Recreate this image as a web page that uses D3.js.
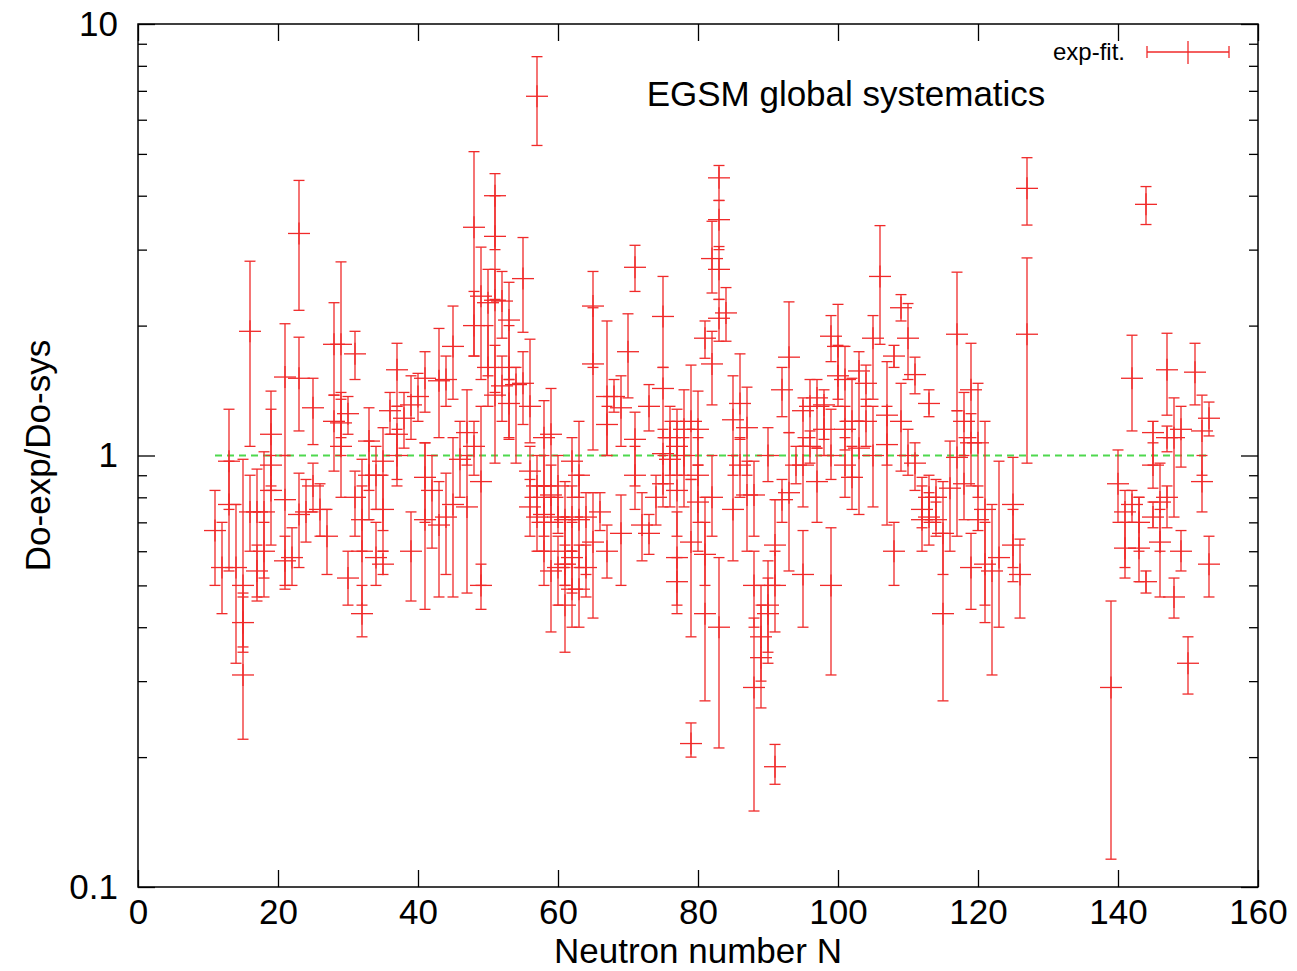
<!DOCTYPE html>
<html>
<head>
<meta charset="utf-8">
<script src="https://cdn.jsdelivr.net/npm/d3@7"></script>
<style>
  body { margin: 0; background: #fff; }
  text { font-family: "Liberation Sans", Arial, Helvetica, sans-serif; fill: #000; }
</style>
</head>
<body>
<div id="chart"></div>
<script>
// neutron number of each nucleus and the ratio Do-exp/Do-sys with its error limits
const neutronN = [
  11, 13, 13, 14, 15, 15, 15, 16, 16, 17, 17, 18, 18, 19, 19, 19, 21, 21, 21,
  23, 23, 23, 24, 25, 25, 26, 27, 28, 28, 29, 29, 29, 30, 30, 31, 31, 32, 32, 32,
  33, 33, 34, 34, 35, 35, 35, 36, 37, 37, 37, 38, 39, 39, 40, 41, 41, 41, 42,
  43, 43, 44, 45, 45, 46, 47, 47, 48, 48, 48, 49, 49, 49, 50, 50, 51, 51, 51, 51,
  52, 52, 53, 53, 53, 54, 55, 55, 56, 56, 57, 57, 58, 58, 58, 59, 59, 59, 60, 60,
  61, 61, 61, 62, 62, 62, 63, 63, 63, 64, 64, 65, 65, 65, 66, 67, 67, 67, 68,
  69, 69, 70, 71, 71, 71, 72, 73, 73, 74, 75, 75, 75, 75, 76, 77, 77, 77, 78, 78,
  79, 79, 79, 80, 80, 81, 81, 81, 82, 82, 82, 83, 83, 83, 83, 83, 84, 85, 85,
  86, 86, 87, 87, 88, 88, 88, 89, 89, 90, 90, 90, 91, 91, 91, 92, 92, 93, 93,
  94, 95, 95, 95, 96, 97, 97, 98, 99, 99, 99, 100, 100, 101, 101, 102, 102,
  103, 103, 104, 105, 105, 106, 107, 107, 108, 108, 109, 109, 110, 110, 111, 111,
  112, 113, 113, 114, 114, 115, 115, 116, 117, 117, 118, 119, 119, 119, 120, 120,
  121, 121, 122, 123, 125, 125, 126, 127, 127,
  139, 140, 141, 141, 142, 142, 143, 143, 144, 144, 145, 145, 145, 146, 146,
  147, 147, 147, 148, 148, 149, 149, 150, 151, 152, 152, 153, 153,
  12, 22, 44, 56, 57, 58, 60, 61, 62, 76, 77, 80, 96, 98, 101, 104, 112, 113, 118
];
const ratio = [
  0.67, 0.97, 0.77, 0.55, 0.31, 0.5, 0.41, 1.94, 0.74, 0.74, 0.54, 0.74, 0.6, 1.12, 0.83, 0.95, 1.52, 0.79, 0.57,
  3.27, 1.51, 0.73, 0.74, 1.29, 0.85, 0.75, 0.65, 1.81, 1.2, 1.81, 1.05, 1.19, 1.25, 0.52, 1.72, 0.8, 0.43, 0.6, 0.71,
  1.08, 0.9, 0.58, 0.9, 0.97, 0.75, 0.56, 1.27, 1.58, 1.12, 1.0, 1.22, 1.31, 0.6, 1.37, 1.51, 0.71, 0.89, 0.83,
  1.49, 0.69, 0.72, 1.79, 0.77, 0.98, 1.13, 0.76, 3.38, 2.0, 1.05, 2.34, 0.87, 0.5, 2.26, 1.6, 4.0, 3.22, 2.29, 1.38,
  2.28, 1.45, 2.06, 1.6, 1.32, 1.46, 2.57, 1.47, 1.3, 0.92, 6.8, 0.85, 0.8, 1.1, 0.73, 1.12, 0.54, 0.81, 0.72, 0.55,
  0.71, 0.45, 0.56, 0.97, 0.49, 0.72, 0.9, 0.71, 0.49, 0.72, 0.55, 2.22, 1.63, 0.63, 0.74, 1.37, 1.18, 0.6, 1.37,
  1.29, 0.66, 1.74, 2.73, 1.09, 0.9, 0.69, 1.3, 0.66, 0.8, 2.1, 1.43, 1.01, 0.86, 0.98, 0.83, 0.58, 0.51, 1.15, 1.0,
  1.2, 0.63, 0.215, 1.15, 0.78, 1.87, 0.43, 0.59, 2.86, 1.63, 0.8, 0.4, 4.4, 3.52, 2.7, 2.08, 2.14, 1.21, 0.75,
  1.32, 0.95, 1.16, 0.81, 0.29, 0.81, 0.5, 0.38, 0.34, 0.43, 0.45, 1.0, 0.19, 0.62, 0.5, 1.42, 0.79, 1.69, 0.82,
  0.95, 1.27, 0.95, 0.53, 1.05, 1.36, 0.87, 1.31, 1.89, 1.0, 0.5, 1.79, 1.53, 1.5, 1.15, 1.2, 0.89,
  1.57, 1.04, 1.47, 1.87, 1.0, 2.6, 1.24, 1.06, 1.7, 0.6, 2.2, 1.2, 1.87, 1.0, 1.54, 0.96,
  0.71, 1.32, 0.8, 0.8, 0.71, 0.43, 0.66, 0.84, 1.91, 0.99, 0.86, 1.42, 1.07, 0.55, 1.07, 0.71,
  0.75, 0.56, 0.54, 0.58, 0.77, 0.62, 0.53, 1.91, 4.16,
  0.29, 0.86, 0.74, 0.61, 1.51, 0.77, 0.61, 0.7, 0.51, 3.82, 1.13, 0.95, 0.72, 0.78, 0.63,
  1.58, 1.1, 0.8, 1.1, 0.47, 1.15, 0.6, 0.33, 1.56, 1.14, 0.87, 1.22, 0.56,
  0.55, 0.58, 1.5, 0.76, 0.72, 0.6, 0.85, 0.6, 0.58, 1.1, 1.05, 0.9, 1.3, 1.15, 0.95, 1.2, 0.75, 0.72, 1.2
];
const ratioLow = [
  0.5, 0.75, 0.54, 0.33, 0.22, 0.36, 0.35, 1.05, 0.6, 0.46, 0.47, 0.47, 0.52, 0.83, 0.62, 0.85, 1.0, 0.49, 0.5,
  2.17, 1.14, 0.55, 0.63, 1.06, 0.74, 0.65, 0.53, 1.38, 0.92, 1.1, 0.8, 1.0, 1.12, 0.45, 1.5, 0.65, 0.38, 0.45, 0.6,
  0.83, 0.71, 0.5, 0.75, 0.67, 0.6, 0.53, 1.12, 1.3, 0.88, 0.85, 1.04, 1.09, 0.46, 1.2, 1.26, 0.44, 0.7, 0.61,
  1.1, 0.47, 0.53, 1.35, 0.47, 0.8, 0.95, 0.48, 1.7, 1.7, 0.9, 1.5, 0.5, 0.44, 1.53, 1.3, 3.0, 2.3, 1.4, 0.96,
  1.87, 1.2, 1.5, 1.09, 1.1, 0.96, 1.93, 1.18, 1.07, 0.8, 5.23, 0.7, 0.6, 0.85, 0.65, 0.85, 0.39, 0.7, 0.66, 0.45,
  0.55, 0.35, 0.5, 0.8, 0.4, 0.6, 0.8, 0.55, 0.4, 0.53, 0.47, 1.6, 1.03, 0.42, 0.67, 1.0, 1.0, 0.52, 1.26,
  1.05, 0.5, 1.36, 2.4, 0.85, 0.75, 0.57, 1.14, 0.59, 0.69, 1.6, 1.1, 0.86, 0.76, 0.76, 0.65, 0.43, 0.45, 0.76, 0.9,
  0.88, 0.38, 0.2, 0.95, 0.6, 1.68, 0.27, 0.5, 2.38, 1.31, 0.65, 0.21, 3.9, 3.0, 2.3, 1.84, 1.84, 0.9, 0.57,
  1.09, 0.8, 0.9, 0.6, 0.15, 0.65, 0.4, 0.3, 0.26, 0.33, 0.35, 0.87, 0.173, 0.5, 0.39, 1.23, 0.7, 1.13, 0.54,
  0.86, 1.05, 0.76, 0.4, 0.96, 1.04, 0.7, 1.09, 1.65, 0.88, 0.31, 1.35, 1.3, 1.2, 1.03, 0.89, 0.75,
  1.2, 0.73, 1.3, 1.35, 0.76, 1.81, 0.95, 0.69, 1.6, 0.5, 2.05, 0.92, 1.5, 0.9, 1.39, 0.83,
  0.6, 1.23, 0.7, 0.7, 0.65, 0.27, 0.53, 0.6, 1.27, 0.65, 0.71, 1.1, 0.85, 0.44, 0.8, 0.67,
  0.41, 0.45, 0.31, 0.4, 0.51, 0.55, 0.42, 0.96, 3.42,
  0.116, 0.7, 0.52, 0.55, 1.14, 0.7, 0.51, 0.6, 0.48, 3.43, 0.95, 0.84, 0.68, 0.6, 0.47,
  1.24, 1.02, 0.68, 0.72, 0.42, 0.94, 0.54, 0.28, 1.31, 0.9, 0.74, 1.11, 0.47,
  0.43, 0.5, 1.3, 0.65, 0.6, 0.5, 0.7, 0.5, 0.48, 0.9, 0.9, 0.7, 1.1, 1.0, 0.8, 1.05, 0.68, 0.62, 1.0
];
const ratioHigh = [
  0.83, 1.28, 0.97, 0.77, 0.47, 0.98, 0.48, 2.82, 0.9, 0.93, 0.62, 1.02, 0.7, 1.41, 1.0, 1.28, 2.02, 1.0, 0.65,
  4.34, 1.88, 0.91, 0.88, 1.51, 0.96, 0.86, 0.75, 2.26, 1.38, 2.81, 1.35, 1.4, 1.37, 0.6, 1.94, 0.92, 0.5, 0.98, 0.85,
  1.29, 1.08, 0.7, 1.05, 1.16, 0.9, 0.6, 1.4, 1.82, 1.3, 1.15, 1.4, 1.53, 0.74, 1.55, 1.74, 1.07, 1.07, 1.0,
  1.97, 0.87, 0.91, 2.22, 1.1, 1.2, 1.42, 1.0, 5.06, 2.4, 1.2, 3.04, 1.3, 0.56, 2.7, 2.0, 4.5, 4.0, 2.7, 1.8,
  2.67, 1.7, 2.52, 2.0, 1.5, 1.6, 3.2, 1.74, 1.86, 1.05, 8.4, 1.0, 1.0, 1.34, 0.85, 1.43, 0.8, 0.95, 0.8, 0.65,
  0.87, 0.56, 0.62, 1.1, 0.6, 0.85, 1.2, 0.9, 0.62, 0.82, 0.62, 2.67, 2.2, 0.82, 0.82, 2.05, 1.3, 0.69, 1.5,
  1.53, 0.81, 2.13, 3.07, 1.26, 1.05, 0.82, 1.46, 0.73, 0.9, 2.6, 1.6, 1.15, 1.0, 1.2, 1.28, 0.74, 0.58, 1.42, 1.1,
  1.62, 0.88, 0.24, 1.41, 0.95, 2.05, 0.8, 0.7, 3.49, 1.94, 1.0, 0.58, 4.7, 3.9, 3.05, 2.3, 2.45, 1.53, 1.0,
  1.72, 1.1, 1.44, 0.97, 0.42, 0.97, 0.6, 0.5, 0.45, 0.52, 0.57, 1.16, 0.214, 0.79, 0.6, 1.6, 0.88, 2.27, 1.13,
  1.05, 1.36, 1.1, 0.67, 1.14, 1.5, 1.04, 1.42, 2.11, 1.28, 0.68, 2.24, 1.8, 1.79, 1.3, 1.51, 1.05,
  1.74, 1.2, 1.62, 2.11, 1.3, 3.41, 1.65, 1.3, 1.8, 0.7, 2.36, 1.47, 2.25, 1.15, 1.69, 1.07,
  0.89, 1.42, 0.9, 0.88, 0.78, 0.66, 0.87, 1.08, 2.66, 1.27, 1.1, 1.82, 1.25, 0.66, 1.47, 0.85,
  1.2, 0.7, 0.77, 0.97, 0.99, 0.75, 0.64, 2.87, 4.9,
  0.46, 1.03, 0.83, 0.7, 1.9, 0.83, 0.8, 0.8, 0.54, 4.2, 1.2, 1.07, 0.78, 0.96, 0.75,
  1.92, 1.17, 0.85, 1.36, 0.52, 1.3, 0.67, 0.38, 1.82, 1.38, 1.0, 1.33, 0.65,
  0.7, 0.68, 1.7, 0.88, 0.85, 0.7, 1.0, 0.72, 0.7, 1.3, 1.2, 1.1, 1.5, 1.3, 1.1, 1.35, 0.85, 0.82, 1.4
];
const xTicks = [0, 20, 40, 60, 80, 100, 120, 140, 160];
const yMajor = [0.1, 1, 10];
const yMinor = [0.2, 0.3, 0.4, 0.5, 0.6, 0.7, 0.8, 0.9, 2, 3, 4, 5, 6, 7, 8, 9];
const referenceLine = { from: 11, to: 153, value: 1 };

const chartSize = { width: 1297, height: 971 };
const plot = { left: 138, right: 1258, top: 24, bottom: 887 };
const red = "#f02a2a";

const points = neutronN.map((n, i) => ({ n, v: ratio[i], lo: ratioLow[i], hi: ratioHigh[i] }));

const svg = d3.select("#chart").append("svg")
  .attr("width", chartSize.width)
  .attr("height", chartSize.height);

const x = d3.scaleLinear().domain([0, 160]).range([plot.left, plot.right]);
const y = d3.scaleLog().domain([0.1, 10]).range([plot.bottom, plot.top]);

// reference line at ratio = 1
svg.append("line")
  .attr("x1", x(referenceLine.from)).attr("x2", x(referenceLine.to))
  .attr("y1", y(referenceLine.value)).attr("y2", y(referenceLine.value))
  .attr("stroke", "#4ed84e").attr("stroke-width", 2)
  .attr("stroke-dasharray", "7,5");

// error bars
const bars = svg.append("g").attr("stroke", red).attr("stroke-width", 1.3).attr("fill", "none");
const cap = 5.5, cross = 11;
const bar = bars.selectAll("g.pt").data(points).join("g").attr("class", "pt");
bar.append("line")
  .attr("x1", d => x(d.n)).attr("x2", d => x(d.n))
  .attr("y1", d => y(d.hi)).attr("y2", d => y(d.lo));
bar.append("line")
  .attr("x1", d => x(d.n) - cap).attr("x2", d => x(d.n) + cap)
  .attr("y1", d => y(d.hi)).attr("y2", d => y(d.hi));
bar.append("line")
  .attr("x1", d => x(d.n) - cap).attr("x2", d => x(d.n) + cap)
  .attr("y1", d => y(d.lo)).attr("y2", d => y(d.lo));
bar.append("line")
  .attr("x1", d => x(d.n) - cross).attr("x2", d => x(d.n) + cross)
  .attr("y1", d => y(d.v)).attr("y2", d => y(d.v));
bar.append("line")
  .attr("x1", d => x(d.n)).attr("x2", d => x(d.n))
  .attr("y1", d => y(d.v) - cross).attr("y2", d => y(d.v) + cross);

// frame and ticks
const frame = svg.append("g");
frame.append("rect")
  .attr("x", plot.left).attr("y", plot.top)
  .attr("width", plot.right - plot.left).attr("height", plot.bottom - plot.top)
  .attr("fill", "none").attr("stroke", "#000").attr("stroke-width", 1.5);

const styleAxis = g => {
  g.select(".domain").remove();
  g.selectAll(".tick line").attr("stroke", "#000").attr("stroke-width", 1.3);
};
const styleLabels = g => g.selectAll("text")
  .attr("font-size", 35).attr("font-family", "Liberation Sans, Arial, sans-serif").attr("fill", "#000");

frame.append("g")
  .attr("transform", `translate(0,${plot.bottom})`)
  .call(d3.axisBottom(x).tickValues(xTicks).tickSize(-17).tickPadding(12).tickFormat(d3.format("d")))
  .call(styleAxis)
  .call(styleLabels);
frame.append("g")
  .attr("transform", `translate(0,${plot.top})`)
  .call(d3.axisTop(x).tickValues(xTicks).tickSize(-17).tickFormat(""))
  .call(styleAxis);

frame.append("g")
  .attr("transform", `translate(${plot.left},0)`)
  .call(d3.axisLeft(y).tickValues(yMajor).tickSize(-17).tickPadding(20).tickFormat(d => d === 0.1 ? "0.1" : d3.format("d")(d)))
  .call(styleAxis)
  .call(styleLabels);
frame.append("g")
  .attr("transform", `translate(${plot.left},0)`)
  .call(d3.axisLeft(y).tickValues(yMinor).tickSize(-9).tickFormat(""))
  .call(styleAxis);
frame.append("g")
  .attr("transform", `translate(${plot.right},0)`)
  .call(d3.axisRight(y).tickValues(yMajor).tickSize(-17).tickFormat(""))
  .call(styleAxis);
frame.append("g")
  .attr("transform", `translate(${plot.right},0)`)
  .call(d3.axisRight(y).tickValues(yMinor).tickSize(-9).tickFormat(""))
  .call(styleAxis);

// labels
svg.append("text")
  .attr("x", (plot.left + plot.right) / 2).attr("y", 963)
  .attr("text-anchor", "middle").attr("font-size", 35)
  .text("Neutron number N");
svg.append("text")
  .attr("transform", `translate(50,${(plot.top + plot.bottom) / 2}) rotate(-90)`)
  .attr("text-anchor", "middle").attr("font-size", 35)
  .text("Do-exp/Do-sys");
svg.append("text")
  .attr("x", 846).attr("y", 106)
  .attr("text-anchor", "middle").attr("font-size", 35)
  .text("EGSM global systematics");

// legend
const legend = svg.append("g");
legend.append("text")
  .attr("x", 1125).attr("y", 60)
  .attr("text-anchor", "end").attr("font-size", 24)
  .text("exp-fit.");
const lg = legend.append("g").attr("stroke", red).attr("stroke-width", 1.3);
lg.append("line").attr("x1", 1147).attr("x2", 1229).attr("y1", 52).attr("y2", 52);
lg.append("line").attr("x1", 1147).attr("x2", 1147).attr("y1", 46).attr("y2", 58);
lg.append("line").attr("x1", 1229).attr("x2", 1229).attr("y1", 46).attr("y2", 58);
lg.append("line").attr("x1", 1188).attr("x2", 1188).attr("y1", 41).attr("y2", 64);
</script>
</body>
</html>
